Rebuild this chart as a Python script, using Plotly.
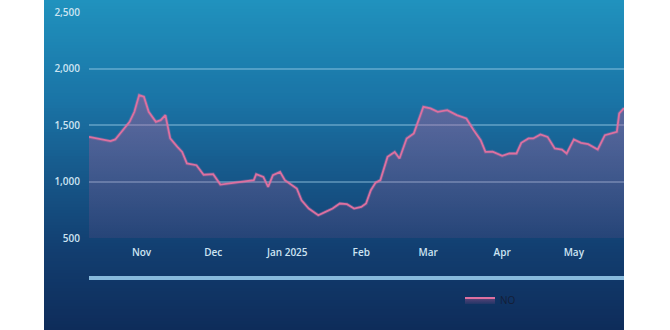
import plotly.graph_objects as go

dates = [
    "2024-10-10", "2024-10-14", "2024-10-19", "2024-10-21", "2024-10-24", "2024-10-27",
    "2024-10-29", "2024-10-31", "2024-11-02", "2024-11-04", "2024-11-07", "2024-11-09",
    "2024-11-11", "2024-11-13", "2024-11-16", "2024-11-18", "2024-11-20", "2024-11-24",
    "2024-11-27", "2024-12-01", "2024-12-04", "2024-12-09", "2024-12-13", "2024-12-18",
    "2024-12-19", "2024-12-22", "2024-12-24", "2024-12-26", "2024-12-29", "2024-12-31",
    "2025-01-05", "2025-01-07", "2025-01-10", "2025-01-14", "2025-01-17", "2025-01-20",
    "2025-01-23", "2025-01-26", "2025-01-29", "2025-02-01", "2025-02-03", "2025-02-05",
    "2025-02-07", "2025-02-09", "2025-02-12", "2025-02-15", "2025-02-17", "2025-02-20",
    "2025-02-23", "2025-02-25", "2025-02-27", "2025-03-02", "2025-03-05", "2025-03-09",
    "2025-03-13", "2025-03-17", "2025-03-20", "2025-03-23", "2025-03-25", "2025-03-28",
    "2025-04-01", "2025-04-04", "2025-04-07", "2025-04-09", "2025-04-12", "2025-04-14",
    "2025-04-17", "2025-04-20", "2025-04-23", "2025-04-26", "2025-04-28", "2025-05-01",
    "2025-05-04", "2025-05-07", "2025-05-09", "2025-05-11", "2025-05-14", "2025-05-17",
    "2025-05-19", "2025-05-20", "2025-05-22",
]
values = [
    1395, 1381, 1357, 1372, 1455, 1528,
    1617, 1765, 1750, 1617, 1528, 1543,
    1588, 1381, 1307, 1262, 1160, 1144,
    1060, 1065, 973, 987, 996, 1012,
    1065, 1041, 952, 1056, 1085, 1012,
    938, 834, 761, 701, 731, 761,
    805, 799, 761, 775, 805, 923,
    990, 1012, 1218, 1262, 1204, 1381,
    1426, 1543, 1661, 1647, 1617, 1632,
    1588, 1558, 1455, 1366, 1262, 1265,
    1227, 1248, 1248, 1342, 1381, 1381,
    1417, 1395, 1292, 1283, 1248, 1372,
    1342, 1331, 1307, 1283, 1410, 1430,
    1440, 1603, 1650,
]
series_name = "NO"

y_ticks = [500, 1000, 1500, 2000, 2500]
x_tick_vals = ["2024-11-01", "2024-12-01", "2025-01-01", "2025-02-01",
               "2025-03-01", "2025-04-01", "2025-05-01"]
x_tick_text = ["Nov", "Dec", "Jan 2025", "Feb", "Mar", "Apr", "May"]

W, H = 670, 330
ML, MR, MT, MB = 89, 46, 12, 92
PW = W - ML - MR
PH = H - MT - MB

def px_to_paper_x(px):
    return (px - ML) / PW

def px_to_paper_y(py):
    return (H - MB - py) / PH

# background gradient (panel)
stops = [(0, (32, 146, 190)), (100, (26, 116, 166)), (180, (22, 86, 136)),
         (250, (18, 62, 112)), (330, (14, 44, 90))]

def col_at(py):
    for (a, ca), (b, cb) in zip(stops[:-1], stops[1:]):
        if a <= py <= b:
            t = (py - a) / (b - a)
            return tuple(int(round(ca[i] + (cb[i] - ca[i]) * t)) for i in range(3))
    return stops[-1][1]

shapes = []
step = 3
for py in range(0, H, step):
    c = col_at(py + step / 2)
    shapes.append(dict(
        type="rect", xref="paper", yref="paper", layer="below",
        x0=px_to_paper_x(44), x1=px_to_paper_x(624),
        y0=px_to_paper_y(H), y1=px_to_paper_y(py),
        line=dict(width=0), fillcolor=f"rgb{c}",
    ))

# light horizontal bar beneath axis
shapes.append(dict(
    type="line", xref="paper", yref="paper",
    x0=px_to_paper_x(89), x1=px_to_paper_x(624),
    y0=px_to_paper_y(278), y1=px_to_paper_y(278),
    line=dict(color="rgb(135,185,220)", width=4),
))

fig = go.Figure()
fig.add_trace(go.Scatter(
    x=dates, y=values, mode="lines", showlegend=False, hoverinfo="skip",
    line=dict(color="rgba(235,120,170,0.25)", width=3.5),
))
fig.add_trace(go.Scatter(
    x=dates, y=values, mode="lines", name=series_name,
    line=dict(color="rgb(222,112,160)", width=1.8),
    fill="tozeroy",
    fillgradient=dict(type="vertical", start=500, stop=1800,
                      colorscale=[[0, "rgba(180,85,145,0.12)"],
                                  [1, "rgba(200,92,150,0.42)"]]),
))

tick_font = dict(family="Open Sans", size=10, color="rgb(205,228,242)", weight=600)

fig.update_layout(
    width=W, height=H,
    margin=dict(l=ML, r=MR, t=MT, b=MB, autoexpand=False),
    paper_bgcolor="white",
    plot_bgcolor="rgba(0,0,0,0)",
    shapes=shapes,
    showlegend=True,
    legend=dict(
        orientation="h", x=px_to_paper_x(460), xanchor="left",
        y=px_to_paper_y(300), yanchor="middle",
        font=dict(family="Open Sans", size=10, color="rgb(20,30,55)"),
        bgcolor="rgba(0,0,0,0)",
    ),
    xaxis=dict(
        type="date", range=["2024-10-10", "2025-05-22"],
        tickvals=x_tick_vals, ticktext=x_tick_text,
        showgrid=False, zeroline=False, showline=False,
        tickfont=tick_font, ticks="", ticklabelstandoff=7,
    ),
    yaxis=dict(
        range=[500, 2500], tickvals=y_ticks, tickformat=",",
        showgrid=True, gridcolor="rgba(170,215,240,0.38)", gridwidth=1.5,
        zeroline=False, showline=False, ticks="",
        tickfont=tick_font, ticklabelstandoff=8,
    ),
)

fig.write_html("out.html")
